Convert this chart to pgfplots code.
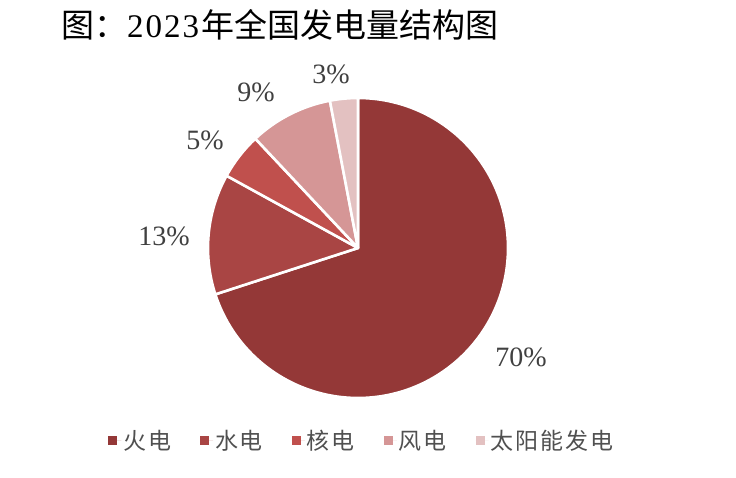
\documentclass[border=0pt]{standalone}
\usepackage{pgfplots}
\pgfplotsset{compat=1.18}
\usepackage{fontspec}
\setmainfont{Liberation Serif}
\newfontfamily\cjk{Noto Sans CJK SC}
\newfontfamily\cjkleg[LetterSpace=8]{Noto Sans CJK SC}
\newfontfamily\titledigits[LetterSpace=6]{Liberation Serif}
\definecolor{c1}{HTML}{943837}
\definecolor{c2}{HTML}{A94544}
\definecolor{c3}{HTML}{C0504D}
\definecolor{c4}{HTML}{D59696}
\definecolor{c5}{HTML}{E3C1C1}
\definecolor{labgray}{HTML}{404040}
\definecolor{leggray}{HTML}{505050}
% \slice{cumulative start %}{value %}{colour}
\newcommand{\slice}[3]{%
  \filldraw[fill=#3, draw=white, line width=2.6bp, line join=round]
    (axis cs:0,0) -- ++({90-3.6*(#1)}:150bp)
    arc[start angle={90-3.6*(#1)}, end angle={90-3.6*(#1+#2)}, radius=150bp] -- cycle;
}
\begin{document}
\begin{tikzpicture}
\useasboundingbox (0,0) rectangle (736bp,478bp);
\node[anchor=base west, inner sep=0pt] at (61bp,440bp)
  {\fontsize{33bp}{35bp}\selectfont{\cjk 图：}{\titledigits 2023}\kern2bp{\cjk 年全国发电量结构图}};
\begin{axis}[
  at={(358bp,230bp)}, anchor=origin,
  x=150bp, y=150bp,
  xmin=-1, xmax=1, ymin=-1, ymax=1,
  hide axis, clip=false,
  legend columns=5,
  legend style={at={(-0.333,-0.143)}, anchor=west, draw=none, fill=none,
    inner sep=0pt, font=\cjkleg\fontsize{23bp}{25bp}\selectfont, text=leggray,
    nodes={inner xsep=2bp},
    /tikz/every even column/.append style={column sep=27bp}},
  legend image code/.code={\fill[#1] (0bp,-4.5bp) rectangle (9bp,4.5bp); \path (0bp,0bp) -- (13bp,0bp);},
]
% values (%): 火电 70, 水电 13, 核电 5, 风电 9, 太阳能发电 3
\slice{0}{70}{c1}
\slice{70}{13}{c2}
\slice{83}{5}{c3}
\slice{88}{9}{c4}
\slice{97}{3}{c5}
\addplot[forget plot, only marks, mark=none, nodes near coords, point meta=explicit symbolic,
  nodes near coords align={center},
  every node near coord/.append style={font=\fontsize{28bp}{30bp}\selectfont, text=labgray}]
  table[meta=label] {
x y label
1.087 -0.727 70\%
-1.293 0.08 13\%
-1.02 0.72 5\%
-0.68 1.04 9\%
-0.18 1.16 3\%
};
\addlegendimage{fill=c1,draw=none}\addlegendentry{火电}
\addlegendimage{fill=c2,draw=none}\addlegendentry{水电}
\addlegendimage{fill=c3,draw=none}\addlegendentry{核电}
\addlegendimage{fill=c4,draw=none}\addlegendentry{风电}
\addlegendimage{fill=c5,draw=none}\addlegendentry{太阳能发电}
\end{axis}
\end{tikzpicture}
\end{document}
